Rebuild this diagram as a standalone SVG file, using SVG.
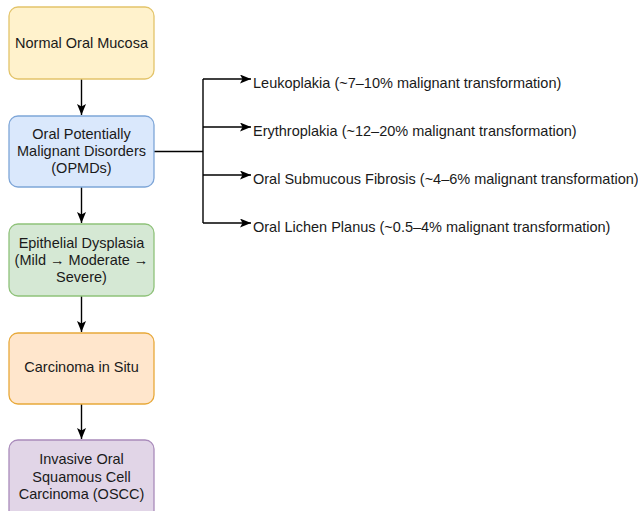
<svg xmlns="http://www.w3.org/2000/svg" width="638" height="511" viewBox="0 0 638 511">
<style>
text{font-family:"Liberation Sans",Arial,sans-serif;font-size:14.5px;fill:#1a1a1a;}
.c{text-anchor:middle;}
.box{stroke-width:1.3;}
.ln{fill:none;stroke:#000;stroke-width:1.4;}
</style>
<defs>
<marker id="ah" viewBox="0 0 11 9" refX="11" refY="4.5" markerWidth="11" markerHeight="9" markerUnits="userSpaceOnUse" orient="auto">
<path d="M0,0 L11,4.5 L0,9 L2.5,4.5 Z" fill="#000"/>
</marker>
</defs>
<rect width="638" height="511" fill="#fff"/>
<g id="connectors">
<line class="ln" x1="81.5" y1="79" x2="81.5" y2="115" marker-end="url(#ah)"/>
<line class="ln" x1="81.5" y1="187" x2="81.5" y2="223" marker-end="url(#ah)"/>
<line class="ln" x1="81.5" y1="296" x2="81.5" y2="332" marker-end="url(#ah)"/>
<line class="ln" x1="81.5" y1="404" x2="81.5" y2="439" marker-end="url(#ah)"/>
<line class="ln" x1="154" y1="151.5" x2="203" y2="151.5"/>
<line class="ln" x1="203" y1="79" x2="203" y2="223"/>
<line class="ln" x1="203" y1="79" x2="251" y2="79" marker-end="url(#ah)"/>
<line class="ln" x1="203" y1="127" x2="251" y2="127" marker-end="url(#ah)"/>
<line class="ln" x1="203" y1="175" x2="251" y2="175" marker-end="url(#ah)"/>
<line class="ln" x1="203" y1="223" x2="251" y2="223" marker-end="url(#ah)"/>
</g>
<g id="n1">
<rect class="box" x="9" y="7" width="145" height="72" rx="9" fill="#fff2cc" stroke="#e3c46a"/>
<text class="c" x="81.5" y="48">Normal Oral Mucosa</text>
</g>
<g id="n2">
<rect class="box" x="9" y="116" width="145" height="71" rx="9" fill="#dae8fc" stroke="#7ea6d8"/>
<text class="c" x="81.5" y="139">Oral Potentially</text>
<text class="c" x="81.5" y="156">Malignant Disorders</text>
<text class="c" x="81.5" y="173">(OPMDs)</text>
</g>
<g id="n3">
<rect class="box" x="9" y="224" width="145" height="72" rx="9" fill="#d5e8d4" stroke="#8fc27a"/>
<text class="c" x="81.5" y="248">Epithelial Dysplasia</text>
<text class="c" x="81.5" y="265">(Mild → Moderate →</text>
<text class="c" x="81.5" y="282">Severe)</text>
</g>
<g id="n4">
<rect class="box" x="9" y="333" width="145" height="71" rx="9" fill="#ffe6cc" stroke="#e8a93a"/>
<text class="c" x="81.5" y="372">Carcinoma in Situ</text>
</g>
<g id="n5">
<rect class="box" x="9" y="440" width="145" height="80" rx="9" fill="#e1d5e7" stroke="#a98bbb"/>
<text class="c" x="81.5" y="464">Invasive Oral</text>
<text class="c" x="81.5" y="482">Squamous Cell</text>
<text class="c" x="81.5" y="499">Carcinoma (OSCC)</text>
</g>
<g id="b1"><text x="253" y="88">Leukoplakia (~7–10% malignant transformation)</text></g>
<g id="b2"><text x="253" y="136">Erythroplakia (~12–20% malignant transformation)</text></g>
<g id="b3"><text x="253" y="184">Oral Submucous Fibrosis (~4–6% malignant transformation)</text></g>
<g id="b4"><text x="253" y="232">Oral Lichen Planus (~0.5–4% malignant transformation)</text></g>
</svg>
